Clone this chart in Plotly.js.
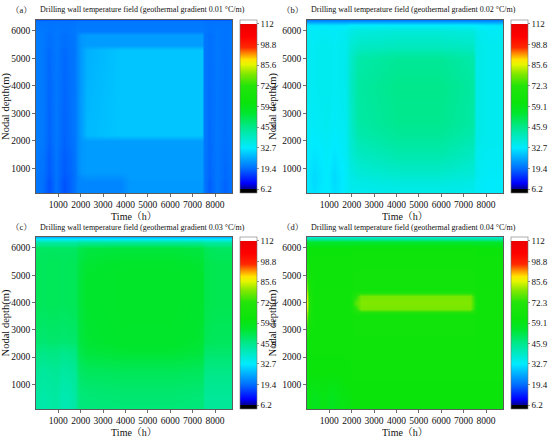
<!DOCTYPE html>
<html>
<head>
<meta charset="utf-8">
<script src="https://cdn.plot.ly/plotly-3.0.1.min.js"></script>
<style>html,body{margin:0;padding:0;background:#fff;}#chart{width:550px;height:439px;}</style>
</head>
<body>
<div id="chart"></div>
<script>
// ---- data ----
const panelLabels = ['（a）', '（b）', '（c）', '（d）'];
const gradients = ['0.01', '0.02', '0.03', '0.04'];
const titlePrefix = 'Drilling wall temperature field (geothermal gradient ';
const titleSuffix = ' °C/m)';

const colorbarTickVals = [6.2, 19.4, 32.7, 45.9, 59.1, 72.3, 85.6, 98.8, 112];
const colorbarTickText = ['6.2', '19.4', '32.7', '45.9', '59.1', '72.3', '85.6', '98.8', '112'];
const xTickVals = [1000, 2000, 3000, 4000, 5000, 6000, 7000, 8000];
const yTickVals = [1000, 2000, 3000, 4000, 5000, 6000];

// panel (a): own sampling (time h, depth m)
const timeA = [0, 300, 600, 900, 1250, 1500, 1750, 1850, 2000, 2300, 3800, 4200, 7400, 7500, 7750, 8100, 8450, 8760];
const depthA = [100, 500, 700, 850, 1500, 2000, 2200, 5300, 5500, 5850, 6000, 6350, 6400];
const tempA = [
  [20.5, 19.5, 17, 20, 17, 18.5, 20, 21.5, 22, 22, 22, 24, 24, 20.5, 18, 20.5, 18.5, 20],
  [20.5, 19.5, 17, 20, 17, 18.5, 20, 21.5, 22, 22, 22, 24, 24, 20.5, 18, 20.5, 18.5, 20],
  [20.5, 19.5, 17.5, 20, 17.5, 18.5, 20, 21.5, 22.5, 23.2, 23, 24.3, 24.3, 20.5, 18.5, 20.5, 19, 20],
  [20.5, 19.8, 17.8, 20, 17.8, 18.8, 20, 22, 23.8, 24.3, 24.3, 24.3, 24.3, 20.5, 18.5, 20.5, 19, 20],
  [20.8, 20, 18, 20.2, 18, 19, 20.3, 22, 23.8, 24.3, 24.3, 24.3, 24.3, 20.5, 18.8, 20.5, 19.2, 20.3],
  [21, 20.5, 18.5, 20.5, 18.5, 19.5, 20.5, 22, 23.8, 24.4, 24.4, 24.4, 24.4, 20.5, 19, 20.5, 19.5, 20.5],
  [21, 20.5, 18.5, 20.5, 18.5, 19.5, 20.5, 22, 24.5, 27.5, 28.7, 28.7, 28.7, 20.5, 19, 20.5, 19.5, 20.5],
  [21, 20.5, 19, 20.5, 19, 19.8, 20.5, 22, 24.2, 26.5, 28.7, 28.7, 28.7, 20.5, 19.5, 20.5, 19.8, 20.5],
  [21, 20.5, 19.5, 20.5, 19.5, 20, 20.5, 22, 23.8, 24.3, 24.3, 24.3, 24.3, 20.5, 19.5, 20.5, 20, 20.5],
  [21, 20.5, 19.5, 20.5, 19.5, 20, 20.5, 22, 23.8, 24.3, 24.3, 24.3, 24.3, 20.5, 19.5, 20.5, 20, 20.5],
  [20.5, 20.5, 20, 20.5, 20, 20.2, 20.5, 21, 20.8, 20.8, 20.8, 20.8, 20.8, 20.5, 20, 20.5, 20, 20.5],
  [20, 20, 20, 20, 20, 20, 20, 20.5, 20.5, 20.5, 20.5, 20.5, 20.5, 20, 20, 20, 20, 20],
  [17.5, 17.5, 17.5, 17.5, 17.5, 17.5, 17.5, 17.5, 17.5, 17.5, 17.5, 17.5, 17.5, 17.5, 17.5, 17.5, 17.5, 17.5]
];

// panels (b) and (c): shared sampling
const timeH = [0, 300, 600, 900, 1200, 1500, 1750, 1900, 2300, 4000, 6000, 7400, 7550, 8100, 8760];
const depthM = [100, 500, 800, 1500, 2200, 2600, 4000, 5000, 5400, 6000, 6200, 6400];

const tempB = [
  [32.5, 31.5, 32.5, 33, 31.5, 32.5, 33.5, 34.5, 34.5, 35, 35, 34.5, 33.5, 33, 33],
  [32.5, 31, 32, 33, 31, 32.5, 33.5, 35, 35.5, 36.5, 36.5, 35.5, 34, 33, 33],
  [32.5, 31, 32, 33, 31, 32.5, 33.5, 35.5, 37, 38.5, 38.5, 37, 34.5, 33.5, 33.5],
  [33, 32, 32.5, 33.5, 32, 33, 34, 37, 39.5, 42, 42, 39.5, 34.5, 34, 34],
  [33.5, 33, 33.5, 34, 33, 33.5, 34.5, 38, 42, 44.5, 44.5, 42, 35.5, 34.5, 34.5],
  [34, 33.5, 34, 34.5, 33.5, 34, 34.5, 38.5, 43, 45.5, 45.5, 43, 35.5, 34.5, 34.5],
  [34.5, 34, 34.5, 34.5, 34, 34.5, 35, 39, 43.5, 46, 46, 43.5, 35.5, 34.5, 34.5],
  [34.5, 34, 34.5, 34.5, 34, 34.5, 35, 38.5, 42.5, 44.5, 44.5, 42.5, 35.5, 34.5, 34.5],
  [34.5, 34, 34.5, 34.5, 34, 34.5, 35, 37.5, 39.5, 40.5, 40.5, 39.5, 35.5, 34.5, 34.5],
  [34, 33.5, 34, 34, 33.5, 34, 34.5, 35.5, 36.5, 37, 37, 36.5, 35, 34, 34],
  [32, 32, 32, 32, 32, 32, 32, 33, 33, 33, 33, 33, 32.5, 32, 32],
  [21, 21, 21, 21, 21, 21, 21, 21, 21, 21, 21, 21, 21, 21, 21]
];

const tempC = [
  [43.5, 42.5, 43, 43.5, 41.5, 42, 43.5, 47.5, 47.5, 48, 48, 47.5, 44.5, 44.5, 44.5],
  [43.5, 42.5, 43, 43.5, 41.5, 42, 43.5, 47.5, 48, 48.5, 48.5, 48, 44.5, 44.5, 44.5],
  [44, 43, 43.5, 44, 42, 42.5, 44, 48, 48.5, 49, 49, 48.5, 45, 45, 45],
  [45, 44, 44.5, 45, 43.5, 44, 45, 49.5, 50.5, 51, 51, 50.5, 46.5, 46.5, 46.5],
  [47, 46.5, 47, 47, 46, 46.5, 47, 52, 53.5, 54.5, 54.5, 53.5, 49, 49, 49],
  [49, 48.5, 49, 49, 48.5, 49, 49, 53, 54.5, 55.5, 55.5, 54.5, 51, 50.5, 50.5],
  [51, 50.5, 51, 51, 50.5, 51, 51, 53.5, 55, 56, 56, 55, 52, 51.5, 51.5],
  [51, 50.5, 51, 51, 50.5, 51, 51, 53.5, 55, 56, 56, 55, 52, 51.5, 51.5],
  [51, 50.5, 51, 51, 50.5, 51, 51, 53, 54.5, 55.5, 55.5, 54.5, 52, 51.5, 51.5],
  [50, 50, 50, 50, 50, 50, 50, 52, 53, 53.5, 53.5, 53, 51, 50, 50],
  [43, 43, 43, 43, 43, 43, 43, 44, 44, 44, 44, 44, 43, 43, 43],
  [27, 27, 27, 27, 27, 27, 27, 27, 27, 27, 27, 27, 27, 27, 27]
];

// panel (d): own finer sampling around the warm tongue
const timeD = [0, 100, 300, 700, 1100, 1500, 1900, 2100, 2400, 4500, 7300, 7450, 7600, 8760];
const depthD = [100, 500, 1000, 1500, 2500, 3550, 3750, 4000, 4250, 4450, 5500, 6000, 6200, 6400];
const tempD = [
  [59, 60, 58, 60, 58, 60, 61, 62, 62, 62, 62, 62, 62, 62],
  [59, 60, 58, 60, 58, 60, 61, 62, 62, 62, 62, 62, 62, 62],
  [61, 61, 60, 61, 60, 61, 62, 62.5, 62.5, 62.5, 62.5, 62.5, 62.5, 62.5],
  [62, 62, 62, 62, 62, 62, 62.5, 63, 63, 63, 63, 63, 63, 63],
  [64, 63, 63, 63, 63, 63, 63, 64, 64, 64, 64, 64, 63, 63],
  [80, 68, 63.5, 63.5, 63.5, 63.5, 63.5, 65, 65, 65, 65, 65, 63.5, 63.5],
  [84, 70, 63.5, 63.5, 63.5, 63.5, 63.5, 70, 79, 79, 79, 73, 63.5, 63.5],
  [86, 71, 64, 64, 64, 64, 64, 75, 80, 80, 80, 74, 64, 64],
  [84, 70, 64, 64, 64, 64, 64, 70, 79, 79, 79, 73, 64, 64],
  [80, 68, 63.5, 63.5, 63.5, 63.5, 63.5, 65, 65, 65, 65, 65, 63.5, 63.5],
  [66, 63, 63, 63, 63, 63, 63, 64, 64, 64, 64, 64, 63, 63],
  [62, 62, 62, 62, 62, 62, 62, 62.5, 62.5, 62.5, 62.5, 62.5, 62, 62],
  [55, 55, 55, 55, 55, 55, 55, 55, 55, 55, 55, 55, 55, 55],
  [38, 38, 38, 38, 38, 38, 38, 38, 38, 38, 38, 38, 38, 38]
];

// ---- styling ----
const W = 550, H = 439;
const serif = 'Liberation Serif, Times New Roman, Noto Serif CJK SC, Noto Sans CJK SC, serif';
const cmin = 3.65, cmax = 114.55;
const colorscale = [
  [0, '#000000'], [0.0229, '#000000'], [0.0231, 'rgb(0,0,150)'],
  [0.0573, 'rgb(0,0,255)'], [0.142, 'rgb(0,110,255)'], [0.2619, 'rgb(0,235,255)'],
  [0.381, 'rgb(0,232,140)'], [0.463, 'rgb(0,230,45)'], [0.5262, 'rgb(10,228,10)'],
  [0.619, 'rgb(35,228,10)'], [0.6889, 'rgb(130,232,0)'], [0.7426, 'rgb(230,245,0)'],
  [0.7696, 'rgb(255,230,0)'], [0.8057, 'rgb(255,140,0)'], [0.8418, 'rgb(255,40,0)'],
  [0.9049, 'rgb(255,0,0)'], [0.9769, 'rgb(235,0,0)'], [0.9771, '#ffffff'], [1, '#ffffff']
];

// pixel boxes of the four plot areas [left, right, top, bottom]
const boxes = [
  [36, 232, 20, 193],
  [307, 503, 20, 193],
  [36, 232, 237, 409],
  [307, 503, 237, 409]
];

const xs = [timeA, timeH, timeH, timeD];
const ys = [depthA, depthM, depthM, depthD];
const zs = [tempA, tempB, tempC, tempD];

const traces = [];
const layout = {
  width: W, height: H,
  margin: {l: 0, r: 0, t: 0, b: 0},
  paper_bgcolor: '#ffffff', plot_bgcolor: '#ffffff',
  showlegend: false,
  annotations: [],
  font: {family: serif, color: '#111'}
};

boxes.forEach((b, i) => {
  const n = i === 0 ? '' : String(i + 1);
  const [l, r, t, bt] = b;
  const y0 = 1 - bt / H, y1 = 1 - t / H;
  traces.push({
    type: 'heatmap',
    x: xs[i], y: ys[i], z: zs[i],
    xaxis: 'x' + n, yaxis: 'y' + n,
    zsmooth: 'best',
    colorscale: colorscale, zmin: cmin, zmax: cmax,
    hoverinfo: 'skip',
    colorbar: {
      x: (r + 8) / W, xanchor: 'left', xpad: 0,
      y: (y0 + y1) / 2, yanchor: 'middle', ypad: 0,
      len: (bt - t) / H, lenmode: 'fraction',
      thickness: 17, thicknessmode: 'pixels',
      outlinewidth: 0.6, outlinecolor: '#777',
      tickmode: 'array', tickvals: colorbarTickVals, ticktext: colorbarTickText,
      ticks: 'outside', ticklen: 2, tickwidth: 0.6, tickcolor: '#444',
      tickfont: {family: serif, size: 9, color: '#111'}
    }
  });
  layout['xaxis' + n] = {
    domain: [l / W, r / W], anchor: 'y' + n,
    range: [0, 8760], tickmode: 'array', tickvals: xTickVals,
    ticks: 'outside', ticklen: 3, tickwidth: 0.7, tickcolor: '#333',
    showline: true, mirror: true, linecolor: '#333', linewidth: 0.8,
    showgrid: false, zeroline: false,
    tickfont: {family: serif, size: 9.5, color: '#111'},
    title: {text: 'Time（h）', font: {family: serif, size: 10, color: '#111'}, standoff: 3}
  };
  layout['yaxis' + n] = {
    domain: [y0, y1], anchor: 'x' + n,
    range: [100, 6400], tickmode: 'array', tickvals: yTickVals,
    ticks: 'outside', ticklen: 3, tickwidth: 0.7, tickcolor: '#333',
    showline: true, mirror: true, linecolor: '#333', linewidth: 0.8,
    showgrid: false, zeroline: false,
    tickfont: {family: serif, size: 9.5, color: '#111'},
    title: {text: 'Nodal depth(m)', font: {family: serif, size: 10.5, color: '#111'}, standoff: 3}
  };
  const ty = 1 - (t - 10) / H;
  layout.annotations.push({
    xref: 'paper', yref: 'paper', x: (l - 27) / W, y: ty,
    xanchor: 'left', yanchor: 'middle', showarrow: false,
    text: panelLabels[i], font: {family: serif, size: 8.5, color: '#111'}
  });
  layout.annotations.push({
    xref: 'paper', yref: 'paper', x: (l + 2) / W, y: ty,
    xanchor: 'left', yanchor: 'middle', showarrow: false,
    text: titlePrefix + gradients[i] + titleSuffix,
    font: {family: serif, size: 8, color: '#111'}
  });
});

Plotly.newPlot('chart', traces, layout, {staticPlot: true, displayModeBar: false});
</script>
</body>
</html>
